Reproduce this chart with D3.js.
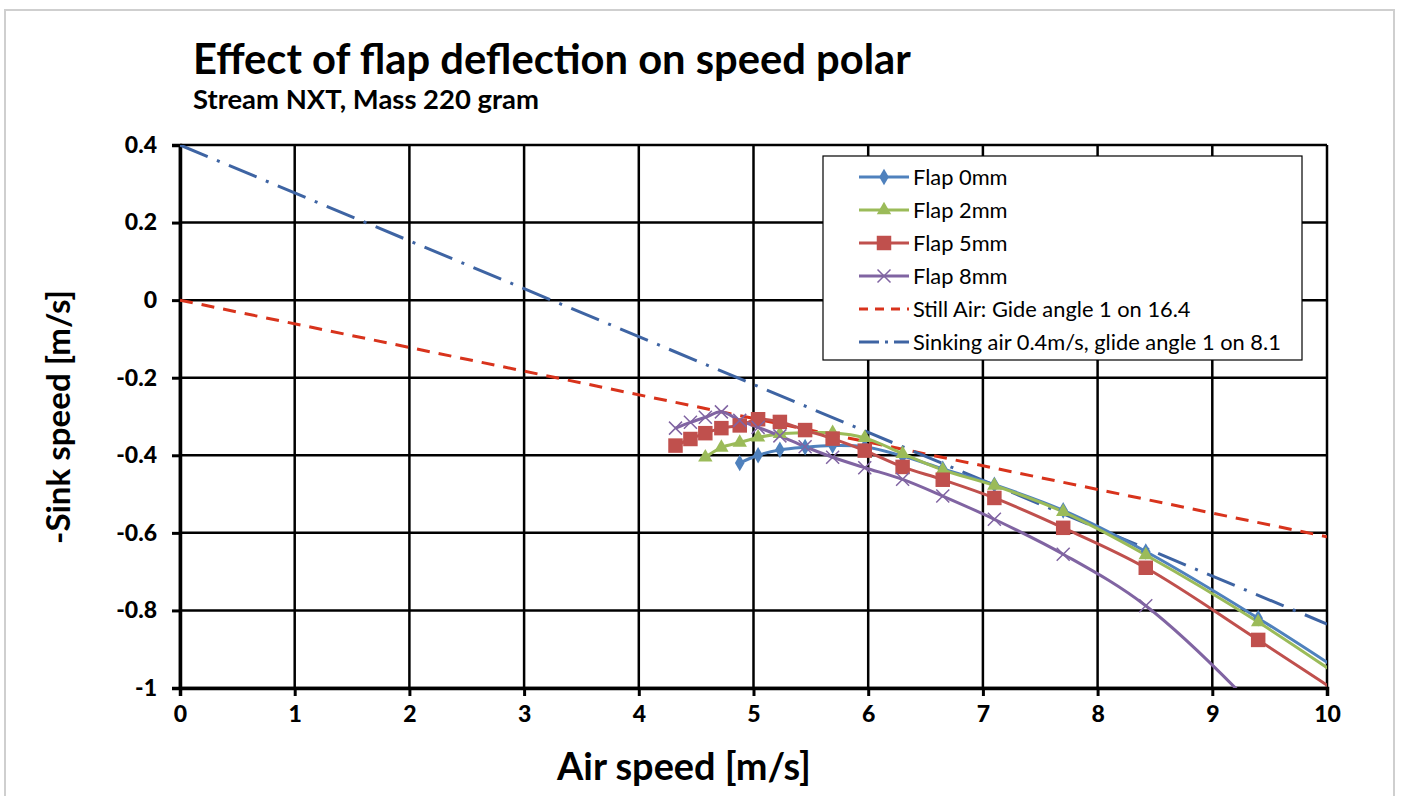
<!DOCTYPE html>
<html>
<head>
<meta charset="utf-8">
<script src="https://cdn.jsdelivr.net/npm/d3@7"></script>
<style>
  html, body { margin: 0; padding: 0; background: #fff; }
  svg { display: block; }
  text { font-family: Lato, "Open Sans", sans-serif; fill: #000; }
</style>
</head>
<body>
<svg id="chart" width="1401" height="796"></svg>
<script>
// ---------- DATA ----------
const titleText = "Effect of flap deflection on speed polar";
const subtitleText = "Stream NXT, Mass 220 gram";
const xAxisTitle = "Air speed [m/s]";
const yAxisTitle = "-Sink speed [m/s]";
const xTicks = [0,1,2,3,4,5,6,7,8,9,10];
const xTickLabels = ["0","1","2","3","4","5","6","7","8","9","10"];
const yTicks = [0.4,0.2,0,-0.2,-0.4,-0.6,-0.8,-1];
const yTickLabels = ["0.4","0.2","0","-0.2","-0.4","-0.6","-0.8","-1"];

const flap0X = [4.88,5.04,5.23,5.45,5.69,5.97,6.3,6.65,7.1,7.7,8.42,9.4,10.7];
const flap0Y = [-0.42,-0.40,-0.386,-0.379,-0.375,-0.378,-0.402,-0.435,-0.476,-0.542,-0.648,-0.82,-1.07];

const flap2X = [4.58,4.72,4.88,5.04,5.23,5.45,5.69,5.97,6.3,6.65,7.1,7.7,8.42,9.4,10.7];
const flap2Y = [-0.405,-0.38,-0.367,-0.354,-0.345,-0.342,-0.342,-0.355,-0.396,-0.438,-0.478,-0.546,-0.657,-0.83,-1.09];

const flap5X = [4.32,4.45,4.58,4.72,4.88,5.04,5.23,5.45,5.69,5.97,6.3,6.65,7.1,7.7,8.42,9.4,10.7];
const flap5Y = [-0.375,-0.358,-0.343,-0.33,-0.323,-0.307,-0.314,-0.335,-0.357,-0.388,-0.43,-0.463,-0.51,-0.587,-0.69,-0.876,-1.13];

const flap8X = [4.32,4.45,4.58,4.72,4.88,5.04,5.23,5.45,5.69,5.97,6.3,6.65,7.1,7.7,8.42,9.4,10.7];
const flap8Y = [-0.33,-0.315,-0.302,-0.288,-0.31,-0.328,-0.35,-0.378,-0.405,-0.432,-0.462,-0.505,-0.565,-0.655,-0.788,-1.06,-1.5];

const stillAirX = [0,10];
const stillAirY = [0,-0.61];
const sinkingAirX = [0,10];
const sinkingAirY = [0.4,-0.835];

const seriesNames = ["Flap 0mm","Flap 2mm","Flap 5mm","Flap 8mm",
  "Still Air: Gide angle 1 on 16.4","Sinking air 0.4m/s, glide angle 1 on 8.1"];

// ---------- LAYOUT ----------
const svg = d3.select("#chart");
const plot = {left:180, right:1327, top:145, bottom:688};
const x = d3.scaleLinear().domain([0,10]).range([plot.left, plot.right]);
const y = d3.scaleLinear().domain([-1,0.4]).range([plot.bottom, plot.top]);

const colors = {
  flap0:"#4F81BD", flap2:"#9BBB59", flap5:"#C0504D", flap8:"#8064A2",
  still:"#D8331C", sinking:"#3E64A3"
};

function fitWidth(sel, target){
  const fs = parseFloat(sel.attr("font-size"));
  const w = sel.node().getComputedTextLength();
  if (w > 0) sel.attr("font-size", (fs*target/w).toFixed(2));
  return sel;
}

// outer frame
svg.append("rect").attr("x",5).attr("y",10).attr("width",1389).attr("height",800)
  .attr("fill","#fff").attr("stroke","#cfcfcf").attr("stroke-width",2);

// clip
svg.append("defs").append("clipPath").attr("id","plotclip").append("rect")
  .attr("x",plot.left).attr("y",plot.top)
  .attr("width",plot.right-plot.left).attr("height",plot.bottom-plot.top);

// gridlines
const grid = svg.append("g");
grid.selectAll("line.v").data(xTicks).enter().append("line")
  .attr("x1",d=>x(d)).attr("x2",d=>x(d)).attr("y1",plot.top).attr("y2",plot.bottom)
  .attr("stroke","#000").attr("stroke-width",2.5);
grid.selectAll("line.h").data(yTicks).enter().append("line")
  .attr("x1",plot.left).attr("x2",plot.right).attr("y1",d=>y(d)).attr("y2",d=>y(d))
  .attr("stroke","#000").attr("stroke-width",2.5);

// axes
const xAxis = d3.axisBottom(x).tickValues(xTicks).tickFormat((d,i)=>xTickLabels[i])
  .tickSizeOuter(0).tickSize(8).tickPadding(10);
const yAxis = d3.axisLeft(y).tickValues(yTicks).tickFormat((d,i)=>yTickLabels[i])
  .tickSizeOuter(0).tickSize(8).tickPadding(15);

const gx = svg.append("g").attr("transform",`translate(0,${plot.bottom})`).call(xAxis);
const gy = svg.append("g").attr("transform",`translate(${plot.left},0)`).call(yAxis);
[gx,gy].forEach(g=>{
  g.select(".domain").attr("stroke","#000").attr("stroke-width",3.5);
  g.selectAll(".tick line").attr("stroke","#000").attr("stroke-width",3);
  g.selectAll(".tick text").attr("font-family","Lato, sans-serif").attr("font-weight","900")
    .attr("font-size",23).attr("fill","#000");
});

// data layer
const layer = svg.append("g").attr("clip-path","url(#plotclip)");
const lineGen = d3.line().x(d=>x(d[0])).y(d=>y(d[1])).curve(d3.curveCatmullRom.alpha(0.5));
const straight = d3.line().x(d=>x(d[0])).y(d=>y(d[1]));

function zipXY(xs, ys){ return xs.map((v,i)=>[v, ys[i]]); }

layer.append("path").datum(zipXY(stillAirX, stillAirY)).attr("d",straight)
  .attr("fill","none").attr("stroke",colors.still).attr("stroke-width",3)
  .attr("stroke-dasharray","13,9");
layer.append("path").datum(zipXY(sinkingAirX, sinkingAirY)).attr("d",straight)
  .attr("fill","none").attr("stroke",colors.sinking).attr("stroke-width",3)
  .attr("stroke-dasharray","30,10,3,10");

const series = [
  {key:"flap0", pts:zipXY(flap0X,flap0Y), sym:d3.symbolDiamond, size:80},
  {key:"flap2", pts:zipXY(flap2X,flap2Y), sym:d3.symbolTriangle, size:90},
  {key:"flap5", pts:zipXY(flap5X,flap5Y), sym:d3.symbolSquare, size:210},
  {key:"flap8", pts:zipXY(flap8X,flap8Y), sym:"x", size:13}
];

function drawMarker(g, s, cx, cy, col){
  if (s.sym === "x") {
    const h = s.size/2;
    g.append("path").attr("d",`M${cx-h},${cy-h}L${cx+h},${cy+h}M${cx-h},${cy+h}L${cx+h},${cy-h}`)
      .attr("stroke",col).attr("stroke-width",1.5).attr("fill","none");
  } else {
    g.append("path").attr("d", d3.symbol().type(s.sym).size(s.size)())
      .attr("transform",`translate(${cx},${cy})`).attr("fill",col);
  }
}

series.forEach(s=>{
  layer.append("path").datum(s.pts).attr("d",lineGen)
    .attr("fill","none").attr("stroke",colors[s.key]).attr("stroke-width",3);
});
series.forEach(s=>{
  const g = layer.append("g");
  s.pts.forEach(p=>drawMarker(g, s, x(p[0]), y(p[1]), colors[s.key]));
});

// legend
const leg = svg.append("g");
leg.append("rect").attr("x",823).attr("y",156).attr("width",479).attr("height",204)
  .attr("fill","#fff").attr("stroke","#000").attr("stroke-width",1.2);
const legY0 = 177, legDy = 33;
const legTexts = [];
seriesNames.forEach((name,i)=>{
  const yy = legY0 + i*legDy;
  let col, dash=null;
  if (i<4) col = colors[series[i].key];
  else if (i===4){ col = colors.still; dash="9,7"; }
  else { col = colors.sinking; dash="20,6,3,6"; }
  const ln = leg.append("line").attr("x1",859).attr("x2",909).attr("y1",yy).attr("y2",yy)
    .attr("stroke",col).attr("stroke-width",3);
  if (dash) ln.attr("stroke-dasharray",dash);
  if (i<4) drawMarker(leg, series[i], 884, yy, col);
  legTexts.push(leg.append("text").attr("x",913).attr("y",yy).attr("dy","0.35em")
    .attr("font-size",16).attr("fill","#222").text(name));
});
{
  const last = legTexts[legTexts.length-1];
  fitWidth(last, 368);
  const fs = last.attr("font-size");
  legTexts.forEach(t=>t.attr("font-size",fs));
}

// titles
fitWidth(svg.append("text").attr("x",193).attr("y",74).attr("font-size",31)
  .attr("font-weight","bold").text(titleText), 718);
fitWidth(svg.append("text").attr("x",193).attr("y",109).attr("font-size",19)
  .attr("font-weight","bold").text(subtitleText), 346);
fitWidth(svg.append("text").attr("x",684).attr("y",780).attr("text-anchor","middle")
  .attr("font-size",27).attr("font-weight","bold").text(xAxisTitle), 254);
fitWidth(svg.append("text").attr("transform","translate(70,417) rotate(-90)").attr("text-anchor","middle")
  .attr("font-size",27).attr("font-weight","bold").text(yAxisTitle), 254);
</script>
</body>
</html>
